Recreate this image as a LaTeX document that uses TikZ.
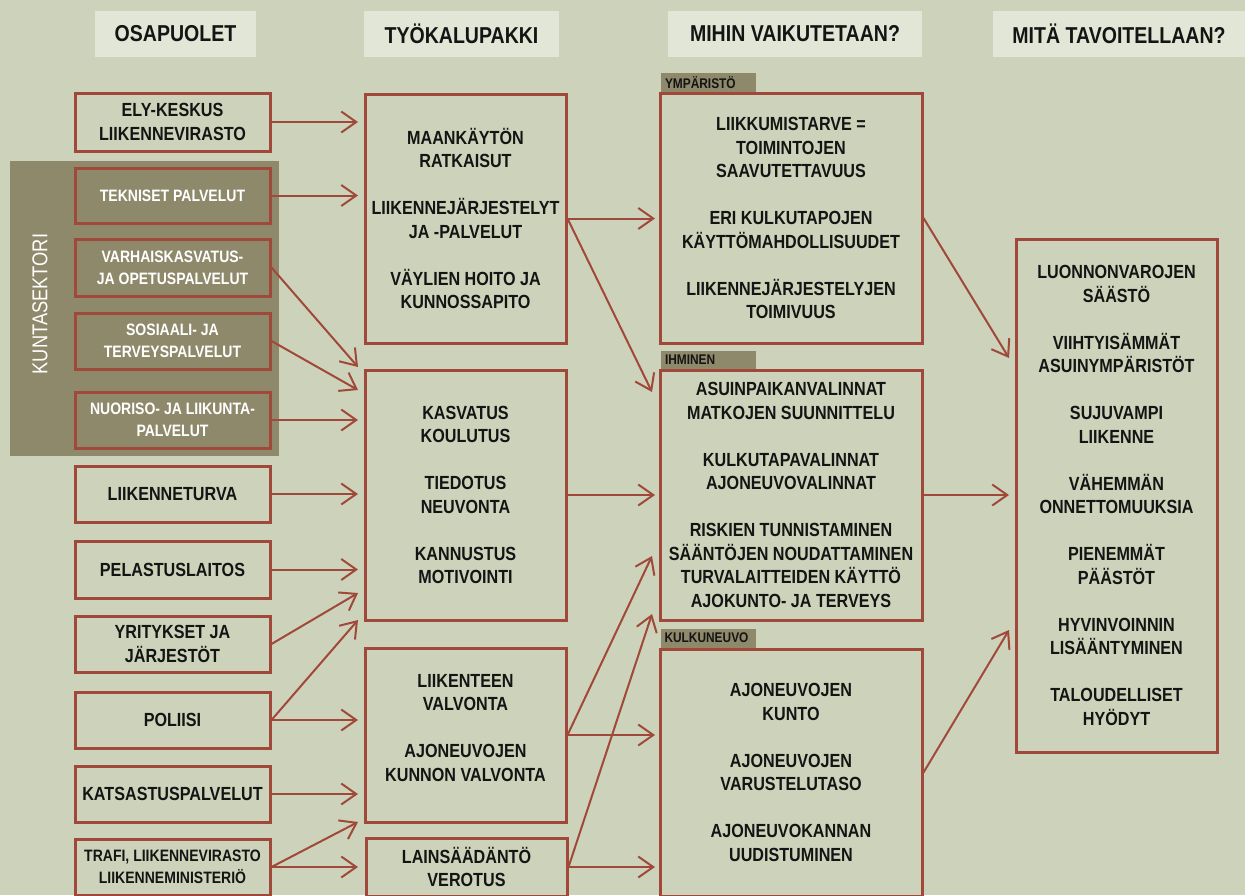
\documentclass[tikz,border=0pt]{standalone}
\usepackage{fontspec}
\setmainfont{Liberation Sans}[FakeStretch=0.85]
\usetikzlibrary{arrows.meta}
\definecolor{bgc}{HTML}{CDD3BA}
\definecolor{headc}{HTML}{E2E6D6}
\definecolor{ksc}{HTML}{8F896B}
\definecolor{brd}{HTML}{A0483A}
\definecolor{txc}{HTML}{141414}
\newcommand\fmain{\fontsize{19}{23.5}\selectfont\bfseries}
\newcommand\fsml{\fontsize{16.5}{22}\selectfont\bfseries}
\newcommand\fhead{\fontsize{23}{27}\selectfont\bfseries}
\newcommand\ftab{\fontsize{14}{16}\selectfont\bfseries}
\newcommand\fks{\fontsize{21.5}{25}\selectfont}
\begin{document}
\begin{tikzpicture}[x=1pt,y=-1pt,
  head/.style={fill=headc, inner sep=0pt, minimum height=46pt, font=\fhead, text=txc},
  box/.style={draw=brd, line width=3pt, inner sep=0pt, align=center, font=\fmain, text=txc},
  wbox/.style={box, font=\fsml, text=white},
  sbox/.style={box, font=\fsml},
  c1/.style={minimum width=195pt, minimum height=56pt},
  c2/.style={minimum width=201pt},
  c3/.style={minimum width=262pt},
  tab/.style={fill=ksc, inner xsep=4pt, inner ysep=0pt, text width=87pt, minimum height=19pt, align=left, font=\ftab, text=txc},
  txt/.style={align=center, font=\fmain, text=txc, inner sep=0pt},
  arr/.style={draw=brd, line width=2pt, -{Straight Barb[length=15pt,width=21pt]}}
]
\useasboundingbox (0,0) rectangle (1245,895);
\fill[bgc] (0,0) rectangle (1245,895);
\clip (0,0) rectangle (1245,895);

% headers
\node[head, minimum width=161pt] (h1) at (175.5,34) {OSAPUOLET};
\node[head, minimum width=195pt] (h2) at (461.5,34) {TYÖKALUPAKKI};
\node[head, minimum width=254pt] (h3) at (795,34) {MIHIN VAIKUTETAAN?};
\node[head, minimum width=252pt] (h4) at (1119,34) {MITÄ TAVOITELLAAN?};

% kuntasektori block
\node[fill=ksc, inner sep=0pt, minimum width=269pt, minimum height=295pt] (ks) at (144.5,308.5) {};
\node[rotate=90, text=white, font=\fks, inner sep=0pt] (kst) at (40,304) {KUNTASEKTORI};

% column 1
\node[box, c1, minimum height=58pt] (ely) at (172.5,122) {ELY-KESKUS\\LIIKENNEVIRASTO};
\node[wbox, c1, minimum height=55pt] (tek) at (172.5,195.5) {TEKNISET PALVELUT};
\node[wbox, c1, minimum height=57pt] (varh) at (172.5,267.5) {VARHAISKASVATUS-\\JA OPETUSPALVELUT};
\node[wbox, c1] (sos) at (172.5,341) {SOSIAALI- JA\\TERVEYSPALVELUT};
\node[wbox, c1] (nuo) at (172.5,420) {NUORISO- JA LIIKUNTA-\\PALVELUT};
\node[box, c1] (ltu) at (172.5,494) {LIIKENNETURVA};
\node[box, c1, minimum height=57pt] (pel) at (172.5,569.5) {PELASTUSLAITOS};
\node[box, c1] (yri) at (172.5,644) {YRITYKSET JA\\JÄRJESTÖT};
\node[box, c1] (pol) at (172.5,720) {POLIISI};
\node[box, c1] (kat) at (172.5,794) {KATSASTUSPALVELUT};
\node[sbox, c1] (tra) at (172.5,867) {TRAFI, LIIKENNEVIRASTO\\LIIKENNEMINISTERIÖ};

% column 2
\node[box, c2, minimum height=249pt] (A) at (465.5,218.5) {MAANKÄYTÖN\\RATKAISUT\\[23.5pt]LIIKENNEJÄRJESTELYT\\JA -PALVELUT\\[23.5pt]VÄYLIEN HOITO JA\\KUNNOSSAPITO};
\node[box, c2, minimum height=250pt] (B) at (465.5,495) {KASVATUS\\KOULUTUS\\[23.5pt]TIEDOTUS\\NEUVONTA\\[23.5pt]KANNUSTUS\\MOTIVOINTI};
\node[box, c2, minimum height=174pt] (C) at (465.5,735) {};
\node[txt] (Ct) at (465.5,728) {LIIKENTEEN\\VALVONTA\\[23.5pt]AJONEUVOJEN\\KUNNON VALVONTA};
\node[box, c2, minimum height=58pt] (D) at (466.5,867) {LAINSÄÄDÄNTÖ\\VEROTUS};

% column 3
\node[tab] (ymp) at (708.5,82.5) {YMPÄRISTÖ};
\node[tab] (ihm) at (708.5,360) {IHMINEN};
\node[tab] (kul) at (708,638) {KULKUNEUVO};
\node[box, c3, minimum height=250pt] (E) at (791,218) {LIIKKUMISTARVE =\\TOIMINTOJEN\\SAAVUTETTAVUUS\\[23.5pt]ERI KULKUTAPOJEN\\KÄYTTÖMAHDOLLISUUDET\\[23.5pt]LIIKENNEJÄRJESTELYJEN\\TOIMIVUUS};
\node[box, c3, minimum height=250pt] (F) at (791,495) {ASUINPAIKANVALINNAT\\MATKOJEN SUUNNITTELU\\[23.5pt]KULKUTAPAVALINNAT\\AJONEUVOVALINNAT\\[23.5pt]RISKIEN TUNNISTAMINEN\\SÄÄNTÖJEN NOUDATTAMINEN\\TURVALAITTEIDEN KÄYTTÖ\\AJOKUNTO- JA TERVEYS};
\node[box, c3, minimum height=247pt] (G) at (791,772.5) {AJONEUVOJEN\\KUNTO\\[23.5pt]AJONEUVOJEN\\VARUSTELUTASO\\[23.5pt]AJONEUVOKANNAN\\UUDISTUMINEN};

% column 4
\node[box, minimum width=201pt, minimum height=513pt] (H) at (1116.5,495.5) {LUONNONVAROJEN\\SÄÄSTÖ\\[23.5pt]VIIHTYISÄMMÄT\\ASUINYMPÄRISTÖT\\[23.5pt]SUJUVAMPI\\LIIKENNE\\[23.5pt]VÄHEMMÄN\\ONNETTOMUUKSIA\\[23.5pt]PIENEMMÄT\\PÄÄSTÖT\\[23.5pt]HYVINVOINNIN\\LISÄÄNTYMINEN\\[23.5pt]TALOUDELLISET\\HYÖDYT};

% arrow end columns and diagonal tips
\coordinate (x2) at (358,0);
\coordinate (x3) at (655,0);
\coordinate (x4) at (1009,0);
\coordinate (t3) at (358,367);
\coordinate (t4) at (358,390);
\coordinate (t8) at (358,593);
\coordinate (t9) at (358,620);
\coordinate (t12) at (358,822);
\coordinate (t15) at (652,392);
\coordinate (t17) at (652,556);
\coordinate (t19) at (652,614);
\coordinate (t21) at (1009,358);
\coordinate (t23) at (1009,630);

% column 1 -> column 2
\draw[arr] (ely.east) -- (ely.east -| x2);
\draw[arr] (tek.east) -- (tek.east -| x2);
\draw[arr] (varh.east) -- (t3);
\draw[arr] (sos.east) -- (t4);
\draw[arr] (nuo.east) -- (nuo.east -| x2);
\draw[arr] (ltu.east) -- (ltu.east -| x2);
\draw[arr] (pel.east) -- (pel.east -| x2);
\draw[arr] (yri.east) -- (t8);
\draw[arr] (pol.east) -- (t9);
\draw[arr] (pol.east) -- (pol.east -| x2);
\draw[arr] (kat.east) -- (kat.east -| x2);
\draw[arr] (tra.east) -- (t12);
\draw[arr] (tra.east) -- (tra.east -| x2);

% column 2 -> column 3
\draw[arr] (A.east) -- (A.east -| x3);
\draw[arr] (A.east) -- (t15);
\draw[arr] (B.east) -- (B.east -| x3);
\draw[arr] (C.east) -- (t17);
\draw[arr] (C.east) -- (C.east -| x3);
\draw[arr] (D.east) -- (t19);
\draw[arr] (D.east) -- (D.east -| x3);

% column 3 -> column 4
\draw[arr] (E.east) -- (t21);
\draw[arr] (F.east) -- (F.east -| x4);
\draw[arr] (G.east) -- (t23);
\end{tikzpicture}
\end{document}
